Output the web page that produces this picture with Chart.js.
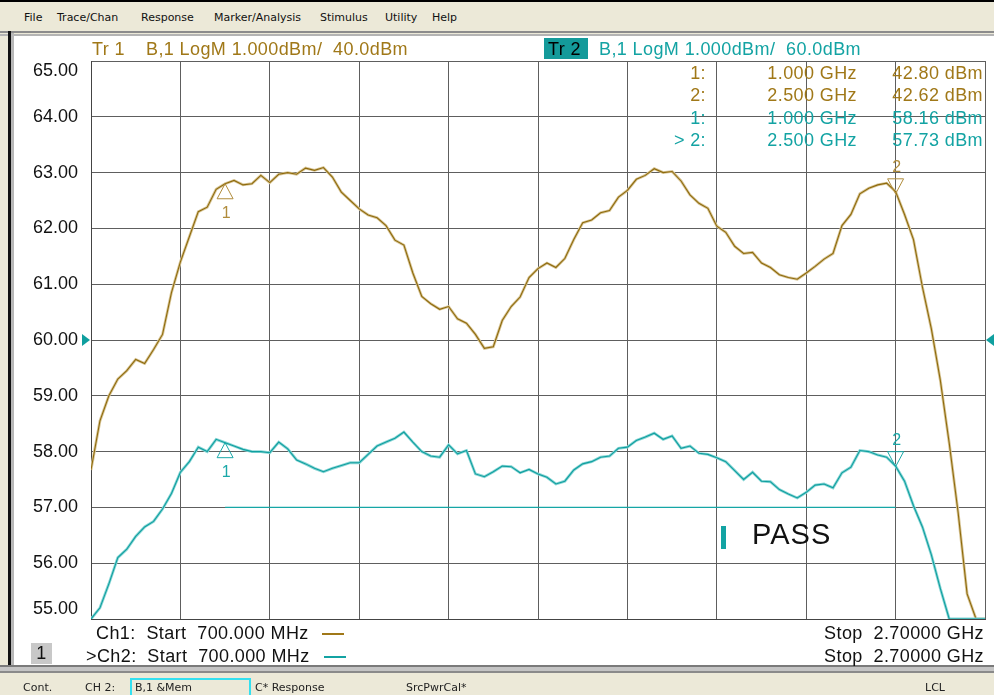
<!DOCTYPE html>
<html>
<head>
<meta charset="utf-8">
<script src="https://cdn.jsdelivr.net/npm/chart.js@4.4.1/dist/chart.umd.min.js"></script>
<style>
  body { margin: 0; width: 994px; height: 695px; overflow: hidden; background: #ece9d8; position: relative;
         font-family: "Liberation Sans", Arial, sans-serif; }
  .a { position: absolute; white-space: pre; }
  .menu { font-family: "DejaVu Sans", Tahoma, sans-serif; font-size: 11px; color: #111; top: 11px; }
  .big { font-size: 18px; line-height: 20px; letter-spacing: 0.4px; }
  .gold { color: #a07818; }
  .teal { color: #13a3a3; }
  .stat { font-family: "DejaVu Sans", Tahoma, sans-serif; font-size: 11px; color: #222; top: 681px; }
  #chart { position: absolute; left: 0; top: 0; }
</style>
</head>
<body>
<!-- window frame -->
<div class="a" style="left:0;top:0;width:994px;height:2px;background:#000"></div>
<div class="a" style="left:0;top:31px;width:994px;height:2px;background:#8c8c8c"></div>
<div class="a" style="left:0;top:34px;width:994px;height:2px;background:#b4b4b4"></div>
<div class="a" style="left:8px;top:31px;width:3px;height:642px;background:#111"></div>
<div class="a" style="left:11px;top:33px;width:3px;height:640px;background:#b8b8b8"></div>
<div class="a" style="left:14px;top:36px;width:980px;height:629px;background:#fff"></div>
<div class="a" style="left:0;top:665px;width:994px;height:2px;background:#7a7a7a"></div>
<div class="a" style="left:0;top:667px;width:994px;height:4px;background:#c4c4c4"></div>
<div class="a" style="left:0;top:671px;width:994px;height:2px;background:#8a8a8a"></div>

<!-- menu bar -->
<div class="a menu" style="left:24px">File</div>
<div class="a menu" style="left:57px">Trace/Chan</div>
<div class="a menu" style="left:141px">Response</div>
<div class="a menu" style="left:214px">Marker/Analysis</div>
<div class="a menu" style="left:320px">Stimulus</div>
<div class="a menu" style="left:385px">Utility</div>
<div class="a menu" style="left:432px">Help</div>

<canvas id="chart" width="994" height="695"></canvas>

<!-- trace titles -->
<div class="a big gold" style="left:92px;top:39px">Tr 1</div>
<div class="a big gold" style="left:146px;top:39px">B,1 LogM 1.000dBm/  40.0dBm</div>
<div class="a" style="left:544px;top:38px;width:44px;height:21px;background:#149a9a"></div>
<div class="a big" style="left:548px;top:39px;color:#000">Tr 2</div>
<div class="a big teal" style="left:599px;top:39px">B,1 LogM 1.000dBm/  60.0dBm</div>

<!-- marker readout -->
<div id="readout"></div>

<!-- pass indicator -->
<div class="a" style="left:721px;top:526px;width:5px;height:23px;background:#13a3a3"></div>
<div class="a" style="left:752px;top:518px;font-size:29px;letter-spacing:1px;color:#111">PASS</div>

<!-- footer -->
<div class="a big" style="left:96px;top:623px;color:#111">Ch1:  Start  700.000 MHz</div>
<div class="a" style="left:322px;top:633px;width:22px;height:2px;background:#a07818"></div>
<div class="a big" style="left:86px;top:646px;color:#111">&gt;Ch2:  Start  700.000 MHz</div>
<div class="a" style="left:324px;top:656px;width:22px;height:2px;background:#13a3a3"></div>
<div class="a big" style="left:31px;top:643px;width:21px;height:21px;background:#c8c8c8;color:#111;text-align:center">1</div>
<div class="a big" style="right:10px;top:623px;color:#111">Stop  2.70000 GHz</div>
<div class="a big" style="right:10px;top:646px;color:#111">Stop  2.70000 GHz</div>

<!-- status bar -->
<div class="a stat" style="left:23px">Cont.</div>
<div class="a stat" style="left:85px">CH 2:</div>
<div class="a" style="left:130px;top:678px;width:117px;height:15px;border:2px solid #33e0f0"></div>
<div class="a stat" style="left:135px">B,1 &amp;Mem</div>
<div class="a stat" style="left:255px">C* Response</div>
<div class="a stat" style="left:406px">SrcPwrCal*</div>
<div class="a stat" style="left:925px">LCL</div>

<script>
// stimulus points, MHz
const freqMHz = [700, 720, 740, 760, 780, 800, 820, 840, 860, 880,
  900, 920, 940, 960, 980, 1000, 1020, 1040, 1060, 1080,
  1100, 1120, 1140, 1160, 1180, 1200, 1220, 1240, 1260, 1280,
  1300, 1320, 1340, 1360, 1380, 1400, 1420, 1440, 1460, 1480,
  1500, 1520, 1540, 1560, 1580, 1600, 1620, 1640, 1660, 1680,
  1700, 1720, 1740, 1760, 1780, 1800, 1820, 1840, 1860, 1880,
  1900, 1920, 1940, 1960, 1980, 2000, 2020, 2040, 2060, 2080,
  2100, 2120, 2140, 2160, 2180, 2200, 2220, 2240, 2260, 2280,
  2300, 2320, 2340, 2360, 2380, 2400, 2420, 2440, 2460, 2480,
  2500, 2520, 2540, 2560, 2580, 2600, 2620, 2640, 2660, 2680, 2700];

// Tr 1, dBm (ref 40.0 dBm, 1 dB/div)
const tr1Dbm = [37.67, 38.55, 39.00, 39.30, 39.45, 39.65, 39.58, 39.83, 40.10, 40.85,
  41.40, 41.85, 42.30, 42.38, 42.70, 42.80, 42.86, 42.78, 42.80, 42.95,
  42.82, 42.97, 43.00, 42.97, 43.08, 43.04, 43.09, 42.92, 42.65, 42.50,
  42.35, 42.24, 42.19, 42.05, 41.79, 41.70, 41.20, 40.78, 40.65, 40.55,
  40.60, 40.38, 40.30, 40.10, 39.85, 39.88, 40.35, 40.60, 40.77, 41.12,
  41.28, 41.38, 41.30, 41.46, 41.80, 42.10, 42.15, 42.28, 42.32, 42.56,
  42.68, 42.88, 42.95, 43.07, 43.00, 43.02, 42.85, 42.60, 42.45, 42.36,
  42.04, 41.93, 41.68, 41.55, 41.57, 41.38, 41.30, 41.17, 41.12, 41.09,
  41.20, 41.32, 41.45, 41.55, 42.05, 42.25, 42.62, 42.72, 42.78, 42.81,
  42.66, 42.25, 41.80, 40.95, 40.20, 39.28, 38.15, 36.90, 35.45, 35.00, 35.00];

// Tr 2, dBm (ref 60.0 dBm, 1 dB/div)
const tr2Dbm = [55.00, 55.20, 55.63, 56.10, 56.25, 56.48, 56.65, 56.75, 56.97, 57.25,
  57.63, 57.82, 58.08, 58.00, 58.22, 58.16, 58.10, 58.04, 58.00, 58.00,
  57.98, 58.17, 58.05, 57.85, 57.78, 57.70, 57.64, 57.70, 57.75, 57.80,
  57.80, 57.95, 58.10, 58.17, 58.24, 58.35, 58.17, 58.00, 57.92, 57.90,
  58.12, 57.96, 58.02, 57.60, 57.55, 57.64, 57.74, 57.73, 57.62, 57.68,
  57.60, 57.54, 57.42, 57.47, 57.67, 57.78, 57.82, 57.90, 57.92, 58.06,
  58.08, 58.20, 58.26, 58.33, 58.22, 58.28, 58.06, 58.10, 57.97, 57.95,
  57.89, 57.82, 57.66, 57.50, 57.63, 57.47, 57.46, 57.32, 57.24, 57.17,
  57.27, 57.40, 57.42, 57.35, 57.62, 57.72, 58.02, 58.00, 57.94, 57.90,
  57.74, 57.47, 57.03, 56.65, 56.15, 55.55, 55.00, 55.00, 55.00, 55.00, 55.00];

// markers
const markerFreqMHz = [1000, 2500];
const tr1Markers = [42.80, 42.62];
const tr2Markers = [58.16, 57.73];

// limit line on Tr 2
const limitFreqMHz = [1000, 2500];
const limitDbm = [57.00, 57.00];

const refLevel = 60;

const GOLD = '#8e6a0c', GOLD_MEM = '#d8c698';
const TEAL = '#0f9f9f', TEAL_MEM = '#8ad6d6';

// readout table
const readout = document.getElementById('readout');
const rows = [];
markerFreqMHz.forEach((f, i) => rows.push({ n: (i + 1) + ':', f, v: tr1Markers[i], cls: 'gold' }));
markerFreqMHz.forEach((f, i) => rows.push({ n: (i === 1 ? '> ' : '') + (i + 1) + ':', f, v: tr2Markers[i], cls: 'teal' }));
const rowTop = [63, 85, 108, 130];
rows.forEach((r, k) => {
  const t = rowTop[k];
  readout.insertAdjacentHTML('beforeend',
    `<div class="a big ${r.cls}" style="right:${994 - 706}px;top:${t}px">${r.n.replace('>', '&gt;')}</div>` +
    `<div class="a big ${r.cls}" style="right:${994 - 857}px;top:${t}px">${(r.f / 1000).toFixed(3)} GHz</div>` +
    `<div class="a big ${r.cls}" style="right:${994 - 983}px;top:${t}px">${r.v.toFixed(2)} dBm</div>`);
});

const pts = (xs, ys) => xs.map((x, i) => ({ x, y: ys[i] }));

const markerPlugin = {
  id: 'markers',
  afterDatasetsDraw(chart) {
    const { ctx, scales } = chart;
    const x = scales.x;
    ctx.save();
    ctx.lineWidth = 1;
    ctx.font = '16px "Liberation Sans", Arial, sans-serif';
    ctx.textAlign = 'center';
    ctx.textBaseline = 'middle';
    const sets = [
      { axis: scales.y1, vals: tr1Markers, color: '#b08c3c' },
      { axis: scales.y, vals: tr2Markers, color: '#1aa8a8' }
    ];
    sets.forEach(s => {
      markerFreqMHz.forEach((f, i) => {
        const px = x.getPixelForValue(f);
        const py = s.axis.getPixelForValue(s.vals[i]);
        const dir = i === 0 ? 1 : -1; // 1: triangle below trace, -1: above
        ctx.strokeStyle = s.color;
        ctx.beginPath();
        ctx.moveTo(px, py);
        ctx.lineTo(px - 8, py + dir * 15);
        ctx.lineTo(px + 8, py + dir * 15);
        ctx.closePath();
        ctx.stroke();
        ctx.fillStyle = s.color;
        ctx.fillText(String(i + 1), px + 1, py + dir * (i === 0 ? 30 : 26));
      });
    });
    // reference level pointers
    const ry = scales.y.getPixelForValue(refLevel);
    const { left, right } = chart.chartArea;
    ctx.fillStyle = TEAL;
    ctx.beginPath();
    ctx.moveTo(left - 9, ry - 6); ctx.lineTo(left - 1, ry); ctx.lineTo(left - 9, ry + 6); ctx.closePath();
    ctx.fill();
    ctx.beginPath();
    ctx.moveTo(right + 9, ry - 6); ctx.lineTo(right + 1, ry); ctx.lineTo(right + 9, ry + 6); ctx.closePath();
    ctx.fill();
    ctx.restore();
  }
};

// lower order is drawn on top
const line = (label, data, axis, color, width, order) => ({
  label, data: pts(freqMHz, data), yAxisID: axis, borderColor: color, borderWidth: width,
  pointRadius: 0, tension: 0, fill: false, order
});

new Chart(document.getElementById('chart'), {
  type: 'line',
  data: {
    datasets: [
      line('Tr1 Mem', tr1Dbm, 'y1', GOLD_MEM, 2.8, 5),
      line('Tr1', tr1Dbm, 'y1', GOLD, 1.1, 4),
      line('Tr2 Mem', tr2Dbm, 'y', TEAL_MEM, 2.8, 3),
      line('Tr2', tr2Dbm, 'y', TEAL, 1.1, 2),
      { label: 'Limit', data: pts(limitFreqMHz, limitDbm), yAxisID: 'y', borderColor: '#16a6a6',
        borderWidth: 1.4, pointRadius: 0, order: 1 }
    ]
  },
  options: {
    responsive: false,
    animation: false,
    layout: { padding: { left: 0, right: 9, top: 61, bottom: 76 } },
    plugins: { legend: { display: false }, tooltip: { enabled: false } },
    scales: {
      x: {
        type: 'linear', min: 700, max: 2700,
        ticks: { display: false, stepSize: 200 },
        grid: { color: '#5e5e5e', lineWidth: 1, drawTicks: false },
        border: { color: '#444' },
        afterFit: s => { s.height = 0; }
      },
      y: {
        min: 55, max: 65,
        ticks: {
          stepSize: 1, padding: 13, color: '#111',
          font: { family: '"Liberation Sans", Arial, sans-serif', size: 18, lineHeight: 1.15 },
          callback: v => v === 65 ? ['', '65.00'] : v === 55 ? ['55.00', ''] : v.toFixed(2)
        },
        grid: { color: '#5e5e5e', lineWidth: 1, drawTicks: false },
        border: { color: '#444' },
        afterFit: s => { s.width = 91; }
      },
      y1: { display: false, min: 35, max: 45 }
    }
  },
  plugins: [markerPlugin]
});
</script>
</body>
</html>
